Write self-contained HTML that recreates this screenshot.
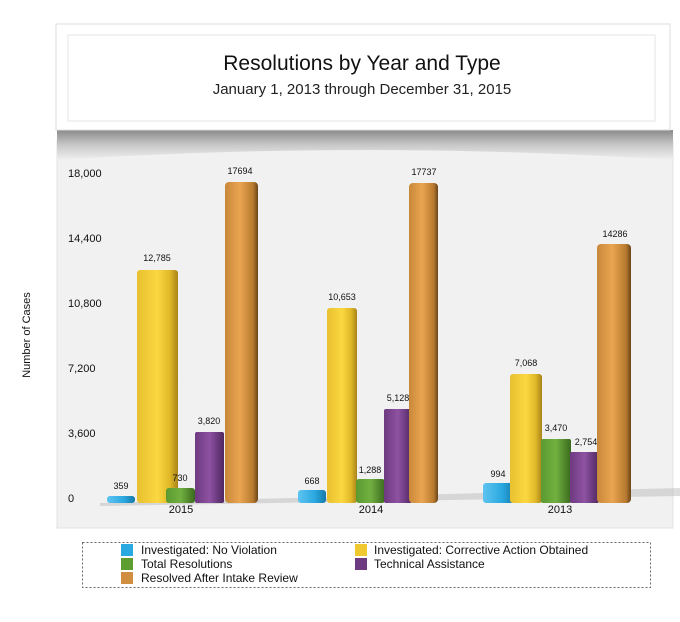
<!DOCTYPE html>
<html><head><meta charset="utf-8"><style>
html,body{margin:0;padding:0;background:#fff;}
svg{display:block;font-family:"Liberation Sans",Arial,sans-serif;}
</style></head><body>
<svg width="680" height="622" viewBox="0 0 680 622">
<defs>
<linearGradient id="shadowBand" x1="0" y1="0" x2="0" y2="1">
<stop offset="0" stop-color="#8a8a8a"/><stop offset="0.5" stop-color="#c8c8c8"/><stop offset="1" stop-color="#f0f0f0"/>
</linearGradient>
<linearGradient id="gc" x1="0" x2="1"><stop offset="0" stop-color="#5ec4f0"/><stop offset="0.6" stop-color="#2aa8e0"/><stop offset="1" stop-color="#1578a8"/></linearGradient>
<linearGradient id="gy" x1="0" x2="1"><stop offset="0" stop-color="#e8c030"/><stop offset="0.5" stop-color="#fbd840"/><stop offset="0.8" stop-color="#e0b828"/><stop offset="1" stop-color="#a88418"/></linearGradient>
<linearGradient id="gg" x1="0" x2="1"><stop offset="0" stop-color="#5a9a30"/><stop offset="0.5" stop-color="#72b040"/><stop offset="1" stop-color="#3a6a1e"/></linearGradient>
<linearGradient id="gp" x1="0" x2="1"><stop offset="0" stop-color="#6e3a80"/><stop offset="0.5" stop-color="#8e52a2"/><stop offset="1" stop-color="#4e2660"/></linearGradient>
<linearGradient id="go" x1="0" x2="1"><stop offset="0" stop-color="#c8883a"/><stop offset="0.45" stop-color="#eaa550"/><stop offset="0.85" stop-color="#b87a30"/><stop offset="1" stop-color="#6a4418"/></linearGradient>
</defs>
<!-- chart bg -->
<rect x="57" y="140" width="616" height="388" fill="#f1f1f1" stroke="#e2e2e2"/>
<!-- shadow band -->
<path d="M57 130 L673 130 L673 160 Q365 140 57 160 Z" fill="url(#shadowBand)"/>
<!-- title box -->
<rect x="56" y="24" width="614" height="106" fill="#fff" stroke="#ddd"/>
<rect x="68" y="35" width="587" height="86" fill="#fff" stroke="#e6e6e6"/>
<text x="362" y="70" font-size="21" text-anchor="middle" fill="#111">Resolutions by Year and Type</text>
<text x="362" y="94" font-size="15" text-anchor="middle" fill="#222">January 1, 2013 through December 31, 2015</text>
<!-- y labels -->
<g font-size="11" fill="#111">
<text x="68" y="177">18,000</text>
<text x="68" y="242">14,400</text>
<text x="68" y="307">10,800</text>
<text x="68" y="372">7,200</text>
<text x="68" y="437">3,600</text>
<text x="68" y="502">0</text>
</g>
<text transform="translate(30,335) rotate(-90)" font-size="11" text-anchor="middle" fill="#111">Number of Cases</text>
<!-- floor shadow -->
<path d="M100 503 L680 488 L680 496 L100 506 Z" fill="#bbb" opacity="0.5"/>
<g id="bars"></g>
<!-- bars 2015 -->
<g font-size="9" fill="#111" text-anchor="middle">
<rect x="107" y="496" width="28" height="7" rx="3" fill="url(#gc)"/><text x="121" y="489">359</text>
<rect x="137" y="270" width="41" height="233" rx="3" fill="url(#gy)"/><text x="157" y="261">12,785</text>
<rect x="166" y="488" width="29" height="15" rx="3" fill="url(#gg)"/><text x="180" y="481">730</text>
<rect x="195" y="432" width="29" height="71" rx="2" fill="url(#gp)"/><text x="209" y="424">3,820</text>
<rect x="225" y="182" width="33" height="321" rx="4" fill="url(#go)"/><text x="240" y="174">17694</text>
<!-- 2014 -->
<rect x="298" y="490" width="28" height="13" rx="3" fill="url(#gc)"/><text x="312" y="484">668</text>
<rect x="327" y="308" width="30" height="195" rx="3" fill="url(#gy)"/><text x="342" y="300">10,653</text>
<rect x="356" y="479" width="29" height="24" rx="3" fill="url(#gg)"/><text x="370" y="473">1,288</text>
<rect x="384" y="409" width="28" height="94" rx="2" fill="url(#gp)"/><text x="398" y="401">5,128</text>
<rect x="409" y="183" width="29" height="320" rx="4" fill="url(#go)"/><text x="424" y="175">17737</text>
<!-- 2013 -->
<rect x="483" y="483" width="32" height="20" rx="3" fill="url(#gc)"/><text x="498" y="477">994</text>
<rect x="510" y="374" width="32" height="129" rx="3" fill="url(#gy)"/><text x="526" y="366">7,068</text>
<rect x="541" y="439" width="30" height="64" rx="2" fill="url(#gg)"/><text x="556" y="431">3,470</text>
<rect x="570" y="452" width="29" height="51" rx="2" fill="url(#gp)"/><text x="586" y="445">2,754</text>
<rect x="597" y="244" width="34" height="259" rx="4" fill="url(#go)"/><text x="615" y="237">14286</text>
</g>
<g font-size="11" fill="#111" text-anchor="middle">
<text x="181" y="513">2015</text><text x="371" y="513">2014</text><text x="560" y="513">2013</text>
</g>
<!-- legend -->
<rect x="82.5" y="542.5" width="568" height="45" fill="#fff" stroke="#666" stroke-dasharray="2,2"/>
<g font-size="12" fill="#111">
<rect x="121" y="544" width="12" height="12" fill="#2aa8e0"/><text x="141" y="554">Investigated: No Violation</text>
<rect x="355" y="544" width="12" height="12" fill="#f0c830"/><text x="374" y="554">Investigated: Corrective Action Obtained</text>
<rect x="121" y="558" width="12" height="12" fill="#5e9e30"/><text x="141" y="568">Total Resolutions</text>
<rect x="355" y="558" width="12" height="12" fill="#6e3a80"/><text x="374" y="568">Technical Assistance</text>
<rect x="121" y="572" width="12" height="12" fill="#d08f40"/><text x="141" y="582">Resolved  After Intake Review</text>
</g>
</svg>
</body></html>
